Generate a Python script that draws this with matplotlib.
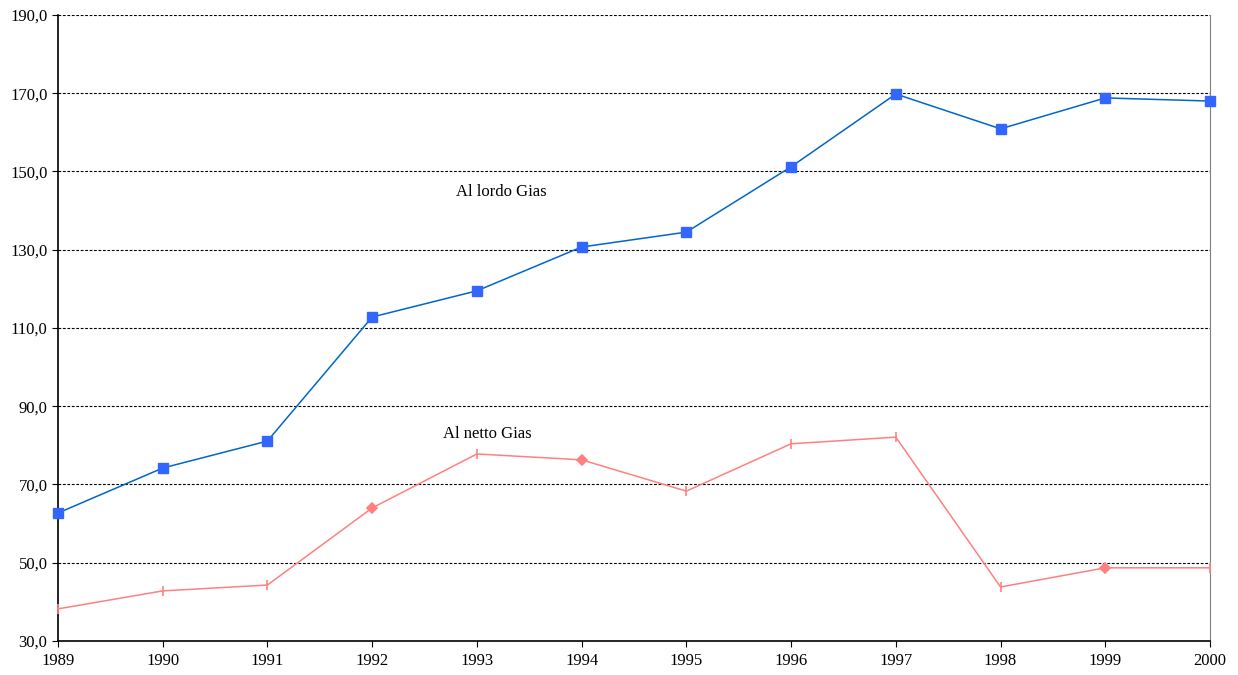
import matplotlib
matplotlib.use('Agg')
import matplotlib.pyplot as plt
from matplotlib.ticker import FuncFormatter

years = [1989, 1990, 1991, 1992, 1993, 1994, 1995, 1996, 1997, 1998, 1999, 2000]
lordo = [62.7, 74.2, 81.1, 112.8, 119.5, 130.7, 134.5, 151.2, 169.8, 160.9, 168.8, 168.0]
netto = [38.2, 42.8, 44.3, 64.0, 77.8, 76.3, 68.3, 80.4, 82.1, 43.8, 48.7, 48.7]
netto_markers = ['|', '|', '|', 'D', '|', 'D', '|', '|', '|', '|', 'D', '|']

plt.rcParams['font.family'] = ['Liberation Serif', 'DejaVu Serif']

fig = plt.figure(figsize=(12.38, 6.75), dpi=100)
ax = fig.add_axes([0.0468, 0.0504, 0.9306, 0.9274])

ax.set_ylim(30, 190)
ax.set_xlim(1989, 2000)
ax.set_yticks(range(30, 191, 20))
ax.set_xticks(years)
ax.yaxis.set_major_formatter(FuncFormatter(lambda v, p: f'{v:.1f}'.replace('.', ',')))

for y in range(50, 191, 20):
    ax.axhline(y, color='black', linestyle=(0, (2.5, 1.5)), linewidth=0.8, zorder=1)

ax.plot(years, lordo, color='#0066CC', linewidth=1.1, zorder=3, clip_on=False)
ax.plot(years, lordo, linestyle='none', marker='s', markersize=6.5,
        color='#3366FF', zorder=4, clip_on=False)

ax.plot(years, netto, color='#FF8080', linewidth=1.1, zorder=3, clip_on=False)
for x, v, m in zip(years, netto, netto_markers):
    ax.plot([x], [v], linestyle='none', marker=m, markersize=5 if m == 'D' else 7,
            color='#FF8080', markeredgewidth=1.2, zorder=4, clip_on=False)

ax.text(1993.23, 144.8, 'Al lordo Gias', fontsize=12, ha='center', va='center')
ax.text(1993.1, 82.9, 'Al netto Gias', fontsize=12, ha='center', va='center')

ax.spines['top'].set_visible(False)
ax.spines['right'].set_color('#808080')
ax.spines['left'].set_linewidth(1.2)
ax.spines['bottom'].set_linewidth(1.2)
ax.tick_params(axis='both', labelsize=12, length=4, direction='out')
ax.tick_params(axis='x', pad=5)

fig.savefig('out.png', dpi=100)
